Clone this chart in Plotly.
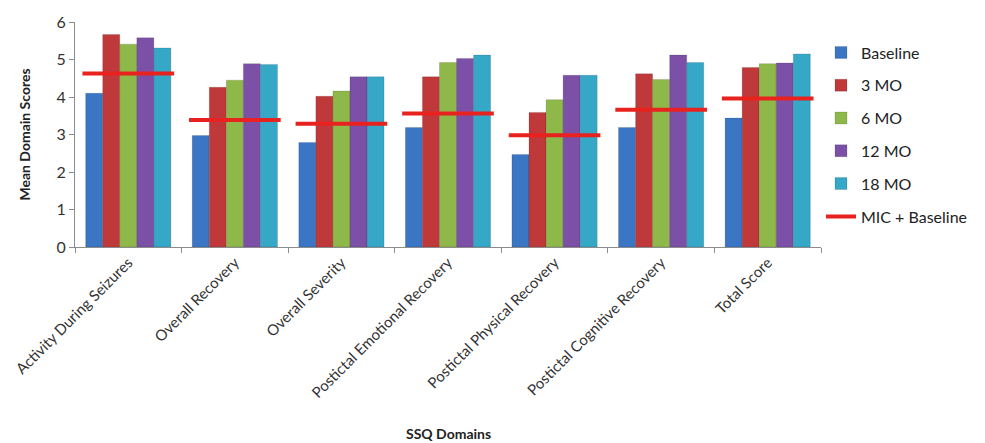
import plotly.graph_objects as go

categories = ["Activity During Seizures", "Overall Recovery", "Overall Severity",
              "Postictal Emotional Recovery", "Postictal Physical Recovery",
              "Postictal Cognitive Recovery", "Total Score"]
baseline = [4.10, 2.97, 2.79, 3.19, 2.47, 3.19, 3.44]
mo3 = [5.67, 4.26, 4.02, 4.54, 3.59, 4.62, 4.79]
mo6 = [5.41, 4.45, 4.16, 4.92, 3.93, 4.47, 4.89]
mo12 = [5.58, 4.89, 4.54, 5.03, 4.58, 5.12, 4.91]
mo18 = [5.31, 4.87, 4.54, 5.12, 4.58, 4.92, 5.15]
mic = [4.63, 3.39, 3.29, 3.56, 2.98, 3.66, 3.96]

series = [("Baseline", baseline, "#3A76C4"),
          ("3 MO", mo3, "#C0393A"),
          ("6 MO", mo6, "#8FB84A"),
          ("12 MO", mo12, "#7B50A6"),
          ("18 MO", mo18, "#35A7C7")]

FONT = "Lato, 'Open Sans', sans-serif"
fig = go.Figure()
for name, vals, col in series:
    fig.add_trace(go.Bar(x=categories, y=vals, name=name, legendgroup=name,
                         marker=dict(color=col, line=dict(color="rgba(0,0,0,0.25)", width=0.5))))

# MIC + Baseline: horizontal segments across each group, on an overlay numeric axis
mx, my = [], []
half = 0.43
for i, v in enumerate(mic):
    mx += [i - half, i + half, None]
    my += [v, v, None]
fig.add_trace(go.Scatter(x=mx, y=my, mode="lines", name="MIC + Baseline", legendgroup="mic",
                         line=dict(color="#E8221E", width=4), xaxis="x2"))

fig.update_layout(
    width=985, height=443,
    margin=dict(l=73, r=142, t=20, b=196),
    paper_bgcolor="white", plot_bgcolor="white",
    barmode="group", bargap=0.2, bargroupgap=0,
    font=dict(family=FONT, size=13, color="#333333"),
    xaxis=dict(type="category", tickangle=-45, showline=True, linecolor="#8C8C8C",
               ticks="outside", tickson="boundaries", ticklen=5, tickcolor="#8C8C8C",
               tickfont=dict(size=15, color="#333333")),
    xaxis2=dict(overlaying="x", range=[-0.5, 6.5], visible=False),
    yaxis=dict(range=[0, 6], dtick=1, showgrid=False, showline=True, linecolor="#8C8C8C",
               ticks="outside", ticklen=5, tickcolor="#8C8C8C", zeroline=False,
               tickfont=dict(size=16, color="#333333"),
               title=dict(text="<b>Mean Domain Scores</b>", font=dict(size=14, color="#222222"), standoff=22)),
    legend=dict(x=1.0, y=0.94, xanchor="left", yanchor="top",
                font=dict(size=16, color="#222222"), tracegroupgap=9, itemwidth=30,
                bgcolor="rgba(0,0,0,0)"),
    showlegend=True,
    annotations=[dict(text="<b>SSQ Domains</b>", xref="paper", yref="paper", x=0.5, y=-0.83,
                      xanchor="center", yanchor="middle", showarrow=False,
                      font=dict(size=14, color="#222222"))],
)
fig.write_html("out.html")
